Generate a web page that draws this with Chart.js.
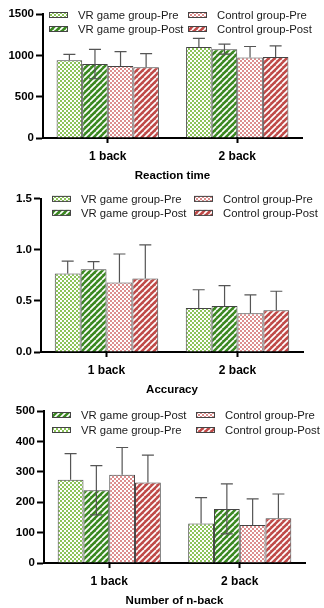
<!DOCTYPE html>
<html>
<head>
<meta charset="utf-8">
<title>n-back results</title>
<script src="https://cdn.jsdelivr.net/npm/chart.js@4/dist/chart.umd.min.js"></script>
<style>
  html, body { margin: 0; padding: 0; background: #fff; }
  body { width: 324px; height: 608px; position: relative; overflow: hidden; }
  .panel { position: absolute; left: 0; width: 324px; }
  .panel canvas { display: block; }
</style>
</head>
<body>
<div class="panel" id="p1" style="top:0;height:190px"><canvas id="rtChart" width="324" height="190"></canvas></div>
<div class="panel" id="p2" style="top:190px;height:210px"><canvas id="accChart" width="324" height="210"></canvas></div>
<div class="panel" id="p3" style="top:400px;height:208px"><canvas id="nbChart" width="324" height="208"></canvas></div>

<script>
// ---- data ----
const categories = ['1 back', '2 back'];
const seriesLabels = ['VR game group-Pre', 'VR game group-Post', 'Control group-Pre', 'Control group-Post'];

// Reaction time
const rtVrPre = [940, 1100];
const rtVrPost = [895, 1075];
const rtCtrlPre = [870, 975];
const rtCtrlPost = [855, 980];
const rtVrPreSd = [72, 105];
const rtVrPostSd = [178, 60];
const rtCtrlPreSd = [175, 132];
const rtCtrlPostSd = [166, 135];
const rtTicks = [0, 500, 1000, 1500];

// Accuracy
const accVrPre = [0.77, 0.43];
const accVrPost = [0.81, 0.45];
const accCtrlPre = [0.68, 0.38];
const accCtrlPost = [0.72, 0.41];
const accVrPreSd = [0.12, 0.18];
const accVrPostSd = [0.075, 0.20];
const accCtrlPreSd = [0.28, 0.18];
const accCtrlPostSd = [0.33, 0.185];
const accTicks = [0, 0.5, 1.0, 1.5];

// Number of n-back
const nbVrPre = [274, 130];
const nbVrPost = [239, 178];
const nbCtrlPre = [290, 125];
const nbCtrlPost = [265, 147];
const nbVrPreSd = [86, 85];
const nbVrPostSd = [81, 82];
const nbCtrlPreSd = [90, 86];
const nbCtrlPostSd = [90, 80];
const nbTicks = [0, 100, 200, 300, 400, 500];

const axisTitles = ['Reaction time', 'Accuracy', 'Number of n-back'];

(function() {
  'use strict';

  const FONT = "'Liberation Sans', Arial, Helvetica, sans-serif";

  // pequenos padrões (xadrez / listras) como no GraphPad
  function checker(color) {
    const c = document.createElement('canvas');
    c.width = 4; c.height = 4;
    const g = c.getContext('2d');
    g.fillStyle = '#fff';
    g.fillRect(0, 0, 4, 4);
    g.fillStyle = color;
    g.fillRect(0, 0, 2, 2);
    g.fillRect(2, 2, 2, 2);
    return g.createPattern(c, 'repeat');
  }

  function stripes(color) {
    const s = 6;
    const c = document.createElement('canvas');
    c.width = s; c.height = s;
    const g = c.getContext('2d');
    g.fillStyle = color;
    g.fillRect(0, 0, s, s);
    g.strokeStyle = '#fff';
    g.lineWidth = 1.7;
    for (let x0 = -s; x0 <= s; x0 += s) {
      g.beginPath();
      g.moveTo(x0, s);
      g.lineTo(x0 + s, 0);
      g.stroke();
    }
    return g.createPattern(c, 'repeat');
  }

  const fills = [
    checker('#8cc45a'),
    stripes('#3a8820'),
    checker('#dc8e8e'),
    stripes('#bf4a48')
  ];

  // barras de erro (média + DP) desenhadas pelas escalas do gráfico
  const errorBars = {
    id: 'errorBars',
    afterDatasetsDraw(chart, args, opts) {
      const ctx = chart.ctx;
      const y = chart.scales.y;
      const showLower = opts.showLower || [];
      ctx.save();
      ctx.strokeStyle = '#555';
      ctx.lineWidth = 1.2;
      chart.data.datasets.forEach((ds, i) => {
        const meta = chart.getDatasetMeta(i);
        meta.data.forEach((bar, j) => {
          const v = ds.data[j];
          const sd = ds.sd[j];
          const top = y.getPixelForValue(v + sd);
          const base = showLower[i] ? y.getPixelForValue(v - sd) : y.getPixelForValue(v);
          ctx.beginPath();
          ctx.moveTo(bar.x, base);
          ctx.lineTo(bar.x, top);
          ctx.moveTo(bar.x - 6, top);
          ctx.lineTo(bar.x + 6, top);
          if (showLower[i]) {
            ctx.moveTo(bar.x - 6, base);
            ctx.lineTo(bar.x + 6, base);
          }
          ctx.stroke();
        });
      });
      ctx.restore();
    }
  };

  // legenda em duas colunas dentro da área do gráfico
  const gridLegend = {
    id: 'gridLegend',
    afterDraw(chart, args, opts) {
      const ctx = chart.ctx;
      const area = chart.chartArea;
      ctx.save();
      ctx.font = '11.3px ' + FONT;
      ctx.textBaseline = 'middle';
      ctx.textAlign = 'left';
      opts.columns.forEach((col, c) => {
        col.forEach((dsIndex, r) => {
          const ds = chart.data.datasets[dsIndex];
          const bx = area.left + opts.x[c];
          const cy = area.top + opts.y[r];
          ctx.fillStyle = ds.backgroundColor;
          ctx.fillRect(bx, cy - 3, 19, 6);
          ctx.strokeStyle = '#444';
          ctx.lineWidth = 1;
          ctx.strokeRect(bx + 0.5, cy - 3 + 0.5, 18, 5);
          ctx.fillStyle = '#1a1a1a';
          ctx.fillText(ds.label, bx + 29, cy + 0.5);
        });
      });
      ctx.restore();
    }
  };

  function build(canvasId, series, sds, ticks, title, geo, legend, lower, fmt) {
    const ctx = document.getElementById(canvasId).getContext('2d');
    return new Chart(ctx, {
      type: 'bar',
      data: {
        labels: categories,
        datasets: series.map((s, i) => ({
          label: seriesLabels[i],
          data: s,
          sd: sds[i],
          backgroundColor: fills[i],
          borderColor: '#444',
          borderWidth: 1,
          categoryPercentage: 0.79,
          barPercentage: 1.0
        }))
      },
      options: {
        responsive: false,
        animation: false,
        events: [],
        layout: { padding: { top: geo.top, right: geo.right, left: 0, bottom: 0 } },
        plugins: {
          legend: { display: false },
          tooltip: { enabled: false },
          gridLegend: legend,
          errorBars: { showLower: lower }
        },
        scales: {
          x: {
            afterFit(scale) { scale.height = geo.xHeight; },
            grid: {
              offset: false,
              drawOnChartArea: false,
              drawTicks: true,
              tickLength: 5,
              tickWidth: 2,
              tickColor: '#000'
            },
            border: { display: true, width: 2, color: '#000' },
            ticks: {
              color: '#000',
              padding: 6,
              font: { family: FONT, size: 12, weight: 'bold' }
            },
            title: {
              display: true,
              text: title,
              color: '#000',
              font: { family: FONT, size: 11.5, weight: 'bold' },
              padding: { top: 2, bottom: geo.titlePad }
            }
          },
          y: {
            min: ticks[0],
            max: ticks[ticks.length - 1],
            afterFit(scale) { scale.width = geo.left; },
            afterBuildTicks(scale) { scale.ticks = ticks.map(v => ({ value: v })); },
            grid: {
              drawOnChartArea: false,
              drawTicks: true,
              tickLength: 7,
              tickWidth: 2,
              tickColor: '#000'
            },
            border: { display: true, width: 2, color: '#000' },
            ticks: {
              color: '#000',
              padding: 2,
              font: { family: FONT, size: 11.5, weight: 'bold' },
              callback: fmt
            }
          }
        }
      },
      plugins: [errorBars, gridLegend]
    });
  }

  Chart.defaults.font.family = FONT;

  // o bigode inferior só aparece nas barras VR-Post de RT e n-back
  build('rtChart',
    [rtVrPre, rtVrPost, rtCtrlPre, rtCtrlPost],
    [rtVrPreSd, rtVrPostSd, rtCtrlPreSd, rtCtrlPostSd],
    rtTicks, axisTitles[0],
    { top: 14, right: 22, left: 43, xHeight: 52, titlePad: 7 },
    { columns: [[0, 1], [2, 3]], x: [6, 145], y: [1, 15] },
    [false, true, false, false],
    v => String(v));

  build('accChart',
    [accVrPre, accVrPost, accCtrlPre, accCtrlPost],
    [accVrPreSd, accVrPostSd, accCtrlPreSd, accCtrlPostSd],
    accTicks, axisTitles[1],
    { top: 7, right: 21, left: 41, xHeight: 48, titlePad: 3 },
    { columns: [[0, 1], [2, 3]], x: [11, 153], y: [0, 14] },
    [false, false, false, false],
    v => v.toFixed(1));

  build('nbChart',
    [nbVrPre, nbVrPost, nbCtrlPre, nbCtrlPost],
    [nbVrPreSd, nbVrPostSd, nbCtrlPreSd, nbCtrlPostSd],
    nbTicks, axisTitles[2],
    { top: 11, right: 19, left: 44, xHeight: 45, titlePad: 0 },
    { columns: [[1, 0], [2, 3]], x: [8, 152], y: [4, 19] },
    [false, true, false, false],
    v => String(v));
})();
</script>
</body>
</html>
